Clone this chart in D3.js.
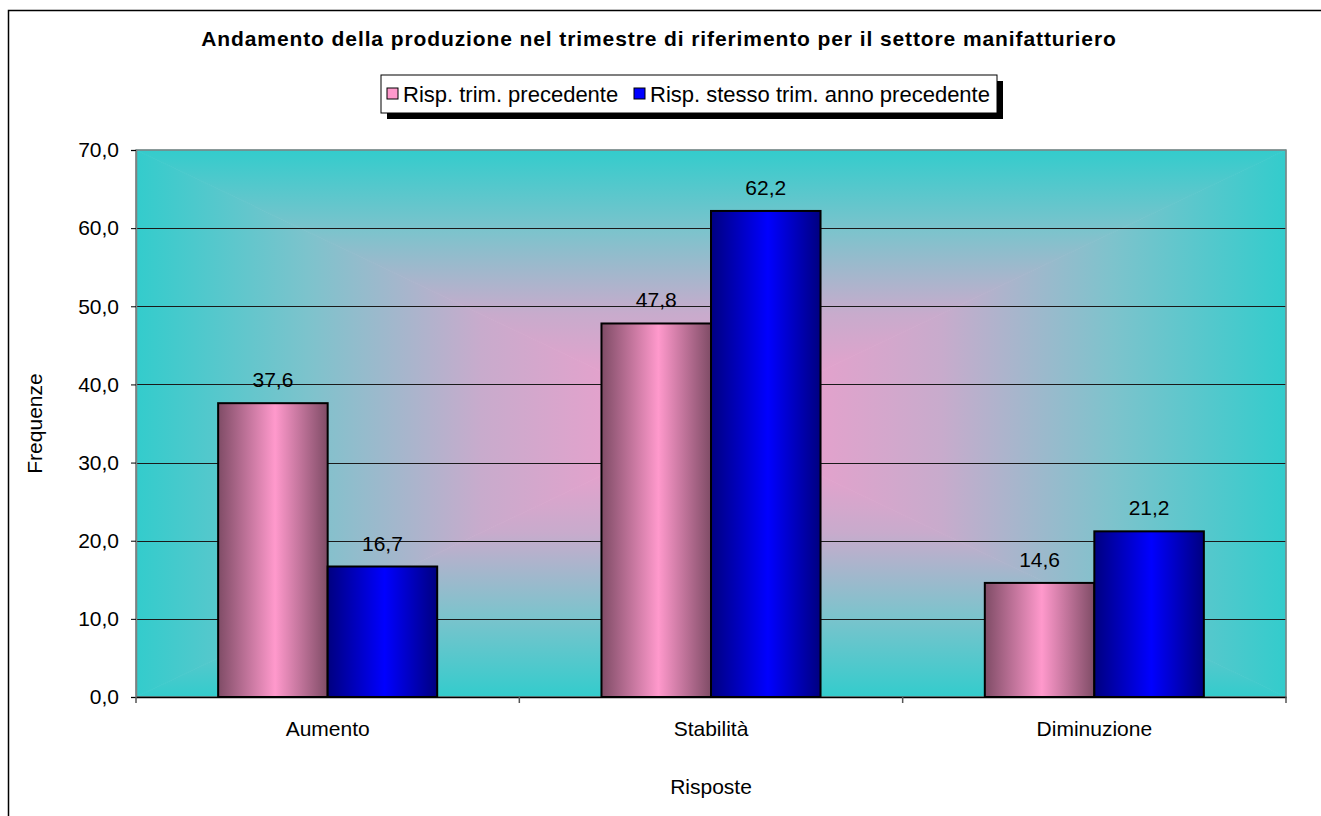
<!DOCTYPE html>
<html>
<head>
<meta charset="utf-8">
<script src="https://cdn.jsdelivr.net/npm/d3@7"></script>
<style>
  body { margin: 0; background: #fff; }
  svg text { font-family: "Liberation Sans", Arial, sans-serif; fill: #000; }
</style>
</head>
<body>
<div id="chart"></div>
<script>
// dati
const categorie = ["Aumento", "Stabilità", "Diminuzione"];
const serie = ["Risp. trim. precedente", "Risp. stesso trim. anno precedente"];
const valoriTrimPrec = [37.6, 47.8, 14.6];
const valoriAnnoPrec = [16.7, 62.2, 21.2];
const yTicks = [0, 10, 20, 30, 40, 50, 60, 70];

const W = 1321, H = 816;
const plot = { left: 136, top: 150, right: 1286, bottom: 697 };
const FS = "21px";

const svg = d3.select("#chart").append("svg")
  .attr("width", W).attr("height", H);

const defs = svg.append("defs");

// bordo esterno
svg.append("rect")
  .attr("x", 8.5).attr("y", 10.5).attr("width", 1330).attr("height", 830)
  .attr("fill", "#fff").attr("stroke", "#000").attr("stroke-width", 1.5);

// --- scale ---
const x0 = d3.scaleBand().domain(categorie).range([plot.left, plot.right]).padding(0);
const x1 = d3.scaleBand().domain(serie).range([0, x0.bandwidth()]).paddingInner(0).paddingOuter(0.75);
const y = d3.scaleLinear().domain([0, 70]).range([plot.bottom, plot.top]);

// --- sfondo area grafico: sfumatura dal centro (rettangolare) ---
const cx = (plot.left + plot.right) / 2, cy = (plot.top + plot.bottom) / 2;
const stopsSfondo = [
  [0, "#33CCCC"], [0.3, "#7DC3CC"], [0.6, "#C8ABCC"], [1, "#FA9ACC"]
];
function sfumatura(id, x1g, y1g, x2g, y2g) {
  const g = defs.append("linearGradient").attr("id", id)
    .attr("gradientUnits", "userSpaceOnUse")
    .attr("x1", x1g).attr("y1", y1g).attr("x2", x2g).attr("y2", y2g);
  stopsSfondo.forEach(s => g.append("stop").attr("offset", s[0]).attr("stop-color", s[1]));
}
sfumatura("gTop", cx, plot.top, cx, cy);
sfumatura("gBot", cx, plot.bottom, cx, cy);
sfumatura("gLeft", plot.left, cy, cx, cy);
sfumatura("gRight", plot.right, cy, cx, cy);

const L = plot.left, R = plot.right, T = plot.top, B = plot.bottom;
const triangoli = [
  { id: "gTop", pts: [[L, T], [R, T], [cx, cy]] },
  { id: "gBot", pts: [[L, B], [R, B], [cx, cy]] },
  { id: "gLeft", pts: [[L, T], [L, B], [cx, cy]] },
  { id: "gRight", pts: [[R, T], [R, B], [cx, cy]] }
];
svg.append("g").selectAll("polygon").data(triangoli).enter().append("polygon")
  .attr("points", d => d.pts.map(p => p.join(",")).join(" "))
  .attr("fill", d => `url(#${d.id})`)
  .attr("stroke", d => `url(#${d.id})`)
  .attr("stroke-width", 0.8);

// griglia orizzontale
svg.append("g").selectAll("line").data(yTicks.slice(1, -1)).enter().append("line")
  .attr("x1", plot.left).attr("x2", plot.right)
  .attr("y1", d => Math.round(y(d)) + 0.5).attr("y2", d => Math.round(y(d)) + 0.5)
  .attr("stroke", "#1a1a1a").attr("stroke-width", 1);

// bordo area grafico
svg.append("rect")
  .attr("x", plot.left).attr("y", plot.top)
  .attr("width", plot.right - plot.left).attr("height", plot.bottom - plot.top)
  .attr("fill", "none").attr("stroke", "#808080").attr("stroke-width", 1.5);

// --- gradienti delle barre (orizzontali, scuro ai bordi) ---
function barGrad(id, scuro, chiaro) {
  const g = defs.append("linearGradient").attr("id", id)
    .attr("x1", 0).attr("y1", 0).attr("x2", 1).attr("y2", 0);
  g.append("stop").attr("offset", 0).attr("stop-color", scuro);
  g.append("stop").attr("offset", 0.52).attr("stop-color", chiaro);
  g.append("stop").attr("offset", 1).attr("stop-color", scuro);
}
barGrad("barPink", "#7F4C66", "#FF99CC");
barGrad("barBlue", "#000080", "#0000FF");
const riempimenti = ["url(#barPink)", "url(#barBlue)"];

const dati = [];
categorie.forEach((c, i) => {
  dati.push({ cat: c, serie: serie[0], v: valoriTrimPrec[i], k: 0 });
  dati.push({ cat: c, serie: serie[1], v: valoriAnnoPrec[i], k: 1 });
});

svg.append("g").selectAll("rect").data(dati).enter().append("rect")
  .attr("x", d => x0(d.cat) + x1(d.serie))
  .attr("y", d => y(d.v))
  .attr("width", x1.bandwidth())
  .attr("height", d => y(0) - y(d.v))
  .attr("fill", d => riempimenti[d.k])
  .attr("stroke", "#000").attr("stroke-width", 2);

// etichette valori
svg.append("g").selectAll("text").data(dati).enter().append("text")
  .attr("x", d => x0(d.cat) + x1(d.serie) + x1.bandwidth() / 2)
  .attr("y", d => y(d.v) - 16)
  .attr("text-anchor", "middle")
  .style("font-size", FS)
  .text(d => d.v.toFixed(1).replace(".", ","));

// --- assi ---
const fmt = d => d.toFixed(1).replace(".", ",");
const yAxis = svg.append("g")
  .attr("transform", `translate(${plot.left},0)`)
  .call(d3.axisLeft(y).tickValues(yTicks).tickFormat(fmt).tickSize(5).tickPadding(12));
yAxis.select(".domain").attr("stroke", "#808080").attr("stroke-width", 1.5);
yAxis.selectAll(".tick line").attr("stroke", "#000");
yAxis.selectAll("text").style("font-size", FS).style("font-family", "Liberation Sans, Arial, sans-serif");

const xAxis = svg.append("g")
  .attr("transform", `translate(0,${plot.bottom})`)
  .call(d3.axisBottom(x0).tickSize(0).tickPadding(24));
xAxis.select(".domain").attr("stroke", "#000").attr("stroke-width", 1.5);
xAxis.selectAll("text").style("font-size", FS).style("font-family", "Liberation Sans, Arial, sans-serif");
// tacche ai bordi delle categorie
const bordi = categorie.map(c => x0(c)).concat([plot.right]);
xAxis.selectAll(".sep").data(bordi).enter().append("line")
  .attr("class", "sep")
  .attr("x1", d => d).attr("x2", d => d).attr("y1", 0).attr("y2", 6)
  .attr("stroke", "#555").attr("stroke-width", 1.5);

// titoli assi
svg.append("text")
  .attr("transform", `translate(42,${(plot.top + plot.bottom) / 2}) rotate(-90)`)
  .attr("text-anchor", "middle").style("font-size", FS)
  .text("Frequenze");
svg.append("text")
  .attr("x", (plot.left + plot.right) / 2).attr("y", 794)
  .attr("text-anchor", "middle").style("font-size", FS)
  .text("Risposte");

// titolo
svg.append("text")
  .attr("x", 659).attr("y", 46)
  .attr("text-anchor", "middle")
  .style("font-size", FS).style("font-weight", "bold").style("letter-spacing", "0.9px")
  .text("Andamento della produzione nel trimestre di riferimento per il settore manifatturiero");

// --- legenda ---
const leg = { x: 381, y: 75, w: 616, h: 38 };
svg.append("rect")
  .attr("x", leg.x + 6).attr("y", leg.y + 6).attr("width", leg.w).attr("height", leg.h)
  .attr("fill", "#000");
svg.append("rect")
  .attr("x", leg.x).attr("y", leg.y).attr("width", leg.w).attr("height", leg.h)
  .attr("fill", "#fff").attr("stroke", "#000").attr("stroke-width", 1);

const legPos = [leg.x + 6, leg.x + 253];
const legColori = ["#FF99CC", "#0000FF"];
const voci = svg.append("g").selectAll("g").data(serie).enter().append("g")
  .attr("transform", (d, i) => `translate(${legPos[i]},${leg.y + 13})`);
voci.append("rect")
  .attr("width", 11).attr("height", 11)
  .attr("fill", (d, i) => legColori[i])
  .attr("stroke", "#000").attr("stroke-width", 1);
voci.append("text")
  .attr("x", 16).attr("y", 14)
  .style("font-size", "22px")
  .text(d => d);
</script>
</body>
</html>
